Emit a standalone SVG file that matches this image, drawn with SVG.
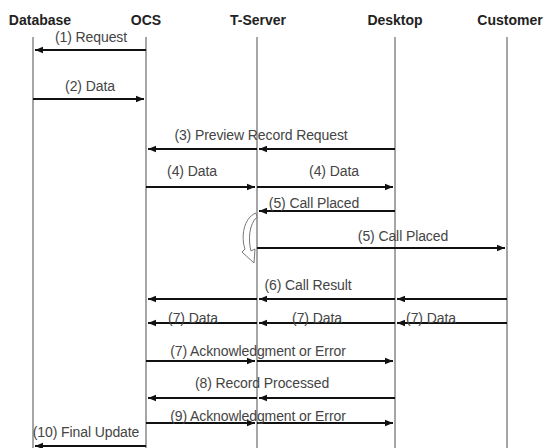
<svg xmlns="http://www.w3.org/2000/svg" width="547" height="448" viewBox="0 0 547 448">
<style>
.hd{font-family:"Liberation Sans",Arial,sans-serif;font-weight:bold;font-size:14px;fill:#222;text-anchor:middle}
.lb{font-family:"Liberation Sans",Arial,sans-serif;font-size:14px;fill:#444;text-anchor:middle;letter-spacing:-0.1px}
.life{stroke:#888;stroke-width:1.5;fill:none}
.msg{stroke:#111;stroke-width:1.8;fill:none}
</style>
<defs>
<marker id="ah" viewBox="0 0 10 10" refX="10" refY="5" markerWidth="8" markerHeight="8" markerUnits="userSpaceOnUse" orient="auto">
<path d="M0,1 L10,5 L0,9 z" fill="#111"/>
</marker>
</defs>
<rect width="547" height="448" fill="#fff"/>
<g id="node-database"><text class="hd" x="40" y="25">Database</text><line class="life" x1="33" y1="37" x2="33" y2="448"/></g>
<g id="node-ocs"><text class="hd" x="146" y="25">OCS</text><line class="life" x1="146" y1="37" x2="146" y2="448"/></g>
<g id="node-tserver"><text class="hd" x="258" y="25">T-Server</text><line class="life" x1="257" y1="37" x2="257" y2="448"/></g>
<g id="node-desktop"><text class="hd" x="395" y="25">Desktop</text><line class="life" x1="395" y1="37" x2="395" y2="448"/></g>
<g id="node-customer"><text class="hd" x="510" y="25">Customer</text><line class="life" x1="507" y1="37" x2="507" y2="448"/></g>
<g id="connectors">
<line class="msg" x1="146" y1="50" x2="35" y2="50" marker-end="url(#ah)"/>
<text class="lb" x="91" y="42">(1) Request</text>
<line class="msg" x1="33" y1="99" x2="144" y2="99" marker-end="url(#ah)"/>
<text class="lb" x="90" y="91">(2) Data</text>
<line class="msg" x1="395" y1="149" x2="259" y2="149" marker-end="url(#ah)"/>
<line class="msg" x1="257" y1="149" x2="148" y2="149" marker-end="url(#ah)"/>
<text class="lb" x="261" y="140">(3) Preview Record Request</text>
<line class="msg" x1="146" y1="187" x2="255" y2="187" marker-end="url(#ah)"/>
<line class="msg" x1="257" y1="187" x2="393" y2="187" marker-end="url(#ah)"/>
<text class="lb" x="192" y="176">(4) Data</text>
<text class="lb" x="334" y="176">(4) Data</text>
<line class="msg" x1="395" y1="211" x2="259" y2="211" marker-end="url(#ah)"/>
<text class="lb" x="314" y="208">(5) Call Placed</text>
<path d="M256,213 C243,218 241,238 245,249 L242,252 L254,263 L255,249 L251,251 C248,240 249,224 257,217 Z" fill="#fff" stroke="#777" stroke-width="1"/>
<line class="msg" x1="257" y1="248" x2="505" y2="248" marker-end="url(#ah)"/>
<text class="lb" x="403" y="241">(5) Call Placed</text>
<line class="msg" x1="507" y1="299" x2="397" y2="299" marker-end="url(#ah)"/>
<line class="msg" x1="395" y1="299" x2="259" y2="299" marker-end="url(#ah)"/>
<line class="msg" x1="257" y1="299" x2="148" y2="299" marker-end="url(#ah)"/>
<text class="lb" x="308" y="290">(6) Call Result</text>
<line class="msg" x1="507" y1="323" x2="397" y2="323" marker-end="url(#ah)"/>
<line class="msg" x1="395" y1="323" x2="259" y2="323" marker-end="url(#ah)"/>
<line class="msg" x1="257" y1="323" x2="148" y2="323" marker-end="url(#ah)"/>
<text class="lb" x="193" y="323">(7) Data</text>
<text class="lb" x="317" y="323">(7) Data</text>
<text class="lb" x="431" y="323">(7) Data</text>
<line class="msg" x1="146" y1="361" x2="255" y2="361" marker-end="url(#ah)"/>
<line class="msg" x1="257" y1="361" x2="393" y2="361" marker-end="url(#ah)"/>
<text class="lb" x="258" y="356">(7) Acknowledgment or Error</text>
<line class="msg" x1="395" y1="398" x2="259" y2="398" marker-end="url(#ah)"/>
<line class="msg" x1="257" y1="398" x2="148" y2="398" marker-end="url(#ah)"/>
<text class="lb" x="262" y="388">(8) Record Processed</text>
<line class="msg" x1="146" y1="423" x2="255" y2="423" marker-end="url(#ah)"/>
<line class="msg" x1="257" y1="423" x2="393" y2="423" marker-end="url(#ah)"/>
<text class="lb" x="258" y="421">(9) Acknowledgment or Error</text>
<line class="msg" x1="146" y1="446" x2="35" y2="446" marker-end="url(#ah)"/>
<text class="lb" x="86" y="437">(10) Final Update</text>
</g>
</svg>
